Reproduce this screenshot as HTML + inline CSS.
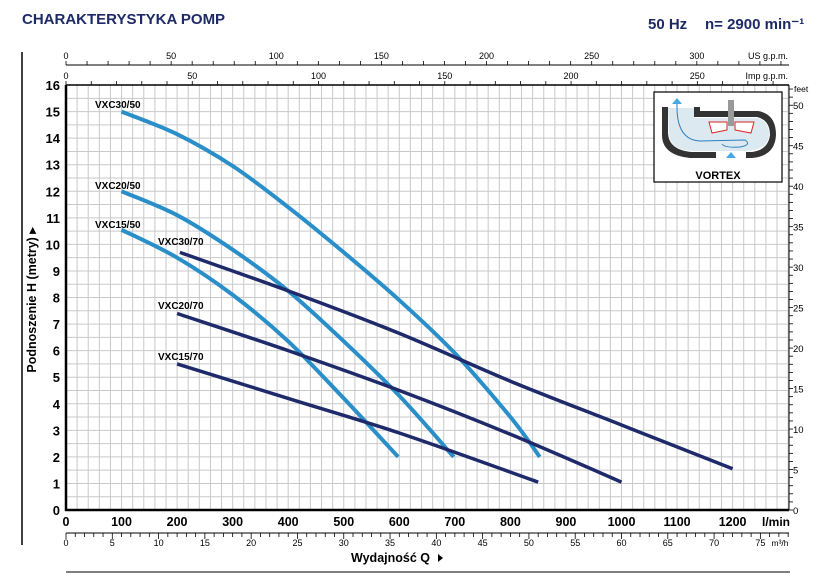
<!DOCTYPE html>
<html><head><meta charset="utf-8"><style>
html,body{margin:0;padding:0;background:#fff;}
svg{display:block;font-family:"Liberation Sans",sans-serif;}
</style></head><body>
<svg id="s" width="836" height="586" viewBox="0 0 836 586" xmlns="http://www.w3.org/2000/svg"></svg>
<script>
const s=document.getElementById('s');const NS='http://www.w3.org/2000/svg';
function el(t,a,txt){const e=document.createElementNS(NS,t);for(const k in a)e.setAttribute(k,a[k]);if(txt!==undefined)e.textContent=txt;s.appendChild(e);return e;}
const X0=66,KX=0.5555,Y0=510,KY=26.56,XR=789,YT=85;
const X=q=>X0+q*KX, Y=h=>Y0-h*KY;
for(let q=20;q<1305;q+=20){const x=X(q);if(x<XR)el('line',{x1:x,y1:YT,x2:x,y2:Y0,stroke:'#c9c9c9','stroke-width':1});}
for(let h=0.5;h<16;h+=0.5){el('line',{x1:X0,y1:Y(h),x2:XR,y2:Y(h),stroke:'#c9c9c9','stroke-width':1});}
el('line',{x1:X0,y1:YT,x2:X0,y2:Y0+1,stroke:'#000','stroke-width':2.5});
el('line',{x1:X0-1,y1:Y0,x2:XR,y2:Y0,stroke:'#000','stroke-width':2.5});
el('line',{x1:X0,y1:YT,x2:XR,y2:YT,stroke:'#000','stroke-width':1.5});
el('line',{x1:XR,y1:YT,x2:XR,y2:Y0,stroke:'#000','stroke-width':1});
for(let h=0;h<=16;h++)el('text',{x:60,y:Y(h)+5,'text-anchor':'end','font-size':13,'font-weight':'bold'},h);
for(let q=0;q<=1200;q+=100)el('text',{x:X(q),y:526,'text-anchor':'middle','font-size':12.5,'font-weight':'bold'},q);
el('text',{x:776,y:526,'text-anchor':'middle','font-size':12,'font-weight':'bold'},'l/min');
el('line',{x1:X0,y1:533,x2:XR,y2:533,stroke:'#000','stroke-width':1});
for(let m=0;m<=78;m++){const x=X(m*1000/60);if(x>XR)break;el('line',{x1:x,y1:533,x2:x,y2:(m%5==0?539:537),stroke:'#000','stroke-width':0.8});
 if(m%5==0&&m<=75)el('text',{x:x,y:546,'text-anchor':'middle','font-size':9},m);}
el('text',{x:780,y:546,'text-anchor':'middle','font-size':8.5},'m³/h');
el('text',{x:430,y:562,'text-anchor':'end','font-size':12.5,'font-weight':'bold'},'Wydajność Q');
el('path',{d:'M438 554 L443 558 L438 562 Z',fill:'#000'});
el('line',{x1:X0,y1:572,x2:790,y2:572,stroke:'#555','stroke-width':1.5});
el('line',{x1:X0,y1:65,x2:XR,y2:65,stroke:'#000','stroke-width':1});
for(let g=0;g<=340;g+=10){const x=X(g*3.7854);if(x>XR)break;el('line',{x1:x,y1:65,x2:x,y2:61,stroke:'#000','stroke-width':0.8});if(g%50==0)el('text',{x:x,y:59,'text-anchor':'middle','font-size':9},g);}
el('text',{x:788,y:59,'text-anchor':'end','font-size':9},'US g.p.m.');
for(let g=0;g<=280;g+=10){const x=X(g*4.546);if(x>XR)break;el('line',{x1:x,y1:85,x2:x,y2:81,stroke:'#000','stroke-width':0.8});if(g%50==0)el('text',{x:x,y:79,'text-anchor':'middle','font-size':9},g);}
el('text',{x:788,y:79,'text-anchor':'end','font-size':9},'Imp g.p.m.');
for(let f=0;f<=52;f++){const y=Y(f*0.3048);el('line',{x1:XR,y1:y,x2:XR+4,y2:y,stroke:'#000','stroke-width':0.8});if(f%5==0)el('text',{x:793,y:y+4,'font-size':9.5},f);}
el('text',{x:794,y:92,'font-size':8.5},'feet');
el('text',{x:0,y:0,transform:'translate(36 300) rotate(-90)','text-anchor':'middle','font-size':12.5,'font-weight':'bold'},'Podnoszenie H (metry) ▸');
el('line',{x1:22,y1:52,x2:22,y2:545,stroke:'#000','stroke-width':1.5});
el('text',{x:22,y:24,'font-size':15,'font-weight':'bold',fill:'#1e2a66'},'CHARAKTERYSTYKA POMP');
el('text',{x:648,y:29,'font-size':15,'font-weight':'bold',fill:'#1e2a66'},'50 Hz');
el('text',{x:705,y:29,'font-size':15,'font-weight':'bold',fill:'#1e2a66'},'n= 2900 min⁻¹');
function curve(P,c,w){const pts=P.map(p=>[X(p[0]),Y(p[1])]);let d='M'+pts[0][0].toFixed(1)+' '+pts[0][1].toFixed(1);
 for(let i=0;i<pts.length-1;i++){const p0=pts[i-1]||pts[i],p1=pts[i],p2=pts[i+1],p3=pts[i+2]||p2;
  const c1=[p1[0]+(p2[0]-p0[0])/6,p1[1]+(p2[1]-p0[1])/6],c2=[p2[0]-(p3[0]-p1[0])/6,p2[1]-(p3[1]-p1[1])/6];
  d+=' C'+c1.map(v=>v.toFixed(1)).join(' ')+' '+c2.map(v=>v.toFixed(1)).join(' ')+' '+p2.map(v=>v.toFixed(1)).join(' ');}
 el('path',{d:d,fill:'none',stroke:c,'stroke-width':w,'stroke-linejoin':'round'});}
const LB='#2a8fc9',DB='#1f2a6b';
curve([[100,15],[200,14.15],[300,12.95],[400,11.4],[500,9.7],[600,7.9],[700,5.9],[800,3.5],[853,2.0]],LB,4);
curve([[100,12],[200,11.1],[300,9.8],[400,8.25],[500,6.35],[600,4.3],[698,2.0]],LB,4);
curve([[100,10.55],[200,9.5],[300,8.1],[400,6.35],[500,4.2],[598,2.0]],LB,4);
curve([[205,9.7],[400,8.25],[600,6.65],[800,4.85],[1000,3.2],[1200,1.55]],DB,3.5);
curve([[200,7.4],[400,6.0],[600,4.5],[800,2.85],[1000,1.05]],DB,3.5);
curve([[200,5.5],[400,4.2],[600,2.9],[850,1.05]],DB,3.5);
[['VXC30/50',95,108],['VXC20/50',95,189],['VXC15/50',95,228],['VXC30/70',158,245],['VXC20/70',158,309],['VXC15/70',158,360]].forEach(l=>el('text',{x:l[1],y:l[2],'font-size':10,'font-weight':'bold'},l[0]));
el('rect',{x:654,y:92,width:128,height:90,fill:'#fff',stroke:'#000','stroke-width':1.2});
el('path',{d:'M662 107 L662 135 Q662 155 690 158 L716 158 L716 152 L692 152 Q668 150 668 132 L668 107 Z',fill:'#333'});
el('path',{d:'M668 107 L694 107 L694 117 L757 117 Q770 120 770 135 Q768 150 752 152 L746 152 L746 158 L752 158 Q775 156 776 135 Q776 114 758 111 L700 111 L700 107 Z',fill:'#333'});
el('path',{d:'M668 108 L694 108 L694 118 L757 118 Q769 121 769 135 Q768 150 746 151 L716 151 L692 151 Q669 150 669 132 Z',fill:'#dde9f0'});
el('rect',{x:728,y:100,width:6,height:26,fill:'#999'});
el('path',{d:'M709 122 L727 122 L727 130 L712 133 Z M735 122 L754 122 L751 133 L735 130 Z',fill:'#fff',stroke:'#d22','stroke-width':1});
el('path',{d:'M677 104 Q676 140 700 141 L745 140 Q752 145 740 147 Q725 148 722 144',fill:'none',stroke:'#2a80c0','stroke-width':1});
el('path',{d:'M672 104 L677 98 L682 104 Z M726 158 L731 152 L736 158 Z',fill:'#4aa8e0'});
el('text',{x:718,y:179,'text-anchor':'middle','font-size':11,'font-weight':'bold'},'VORTEX');
</script>
</body></html>
